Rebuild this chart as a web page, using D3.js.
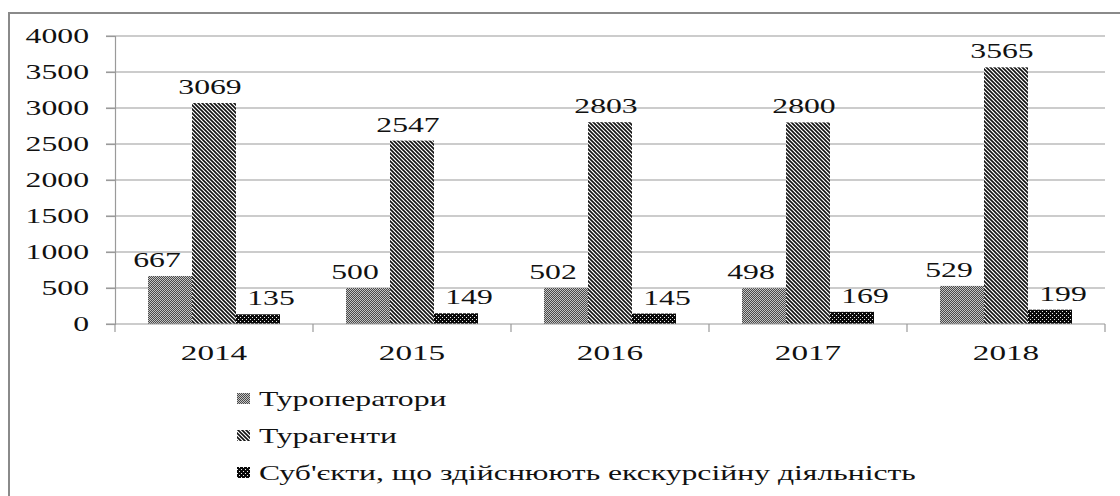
<!DOCTYPE html>
<html>
<head>
<meta charset="utf-8">
<script src="https://cdn.jsdelivr.net/npm/d3@7"></script>
<style>
  html, body { margin: 0; padding: 0; background: #fff; }
  svg { display: block; }
</style>
</head>
<body>
<svg id="chart" width="1120" height="496"></svg>
<script>
// ---- data ----
const years = ["2014", "2015", "2016", "2017", "2018"];
const seriesNames = ["Туроператори", "Турагенти", "Суб'єкти, що здійснюють екскурсійну діяльність"];
const touroperators = [667, 500, 502, 498, 529];
const travelAgents = [3069, 2547, 2803, 2800, 3565];
const excursionEntities = [135, 149, 145, 169, 199];
const yTicks = [0, 500, 1000, 1500, 2000, 2500, 3000, 3500, 4000];

const seriesValues = [touroperators, travelAgents, excursionEntities];

// ---- setup ----
const FONT = "'Liberation Serif', 'Times New Roman', 'DejaVu Serif', serif";
const svg = d3.select("#chart");
const SX = 1.51; // horizontal text stretch seen in the reference

const defs = svg.append("defs");
// pattern 1: fine gray checker
const p1 = defs.append("pattern").attr("id", "pat0").attr("width", 2).attr("height", 2)
  .attr("patternUnits", "userSpaceOnUse");
p1.append("rect").attr("width", 2).attr("height", 2).attr("fill", "#c4c4c4");
p1.append("rect").attr("x", 0).attr("y", 0).attr("width", 1).attr("height", 1).attr("fill", "#4a4a4a");
p1.append("rect").attr("x", 1).attr("y", 1).attr("width", 1).attr("height", 1).attr("fill", "#4a4a4a");
// pattern 2: diagonal stripes (down-right)
const p2 = defs.append("pattern").attr("id", "pat1").attr("width", 4).attr("height", 4)
  .attr("patternUnits", "userSpaceOnUse");
p2.append("rect").attr("width", 4).attr("height", 4).attr("fill", "#fff");
p2.append("path").attr("d", "M-1,-1 L5,5 M-1,3 L1,5 M3,-1 L5,1")
  .attr("stroke", "#111").attr("stroke-width", 1.6);
// pattern 3: black with white dots
const p3 = defs.append("pattern").attr("id", "pat2").attr("width", 4).attr("height", 4)
  .attr("patternUnits", "userSpaceOnUse");
p3.append("rect").attr("width", 4).attr("height", 4).attr("fill", "#0a0a0a");
p3.append("rect").attr("x", 1).attr("y", 1).attr("width", 1).attr("height", 1).attr("fill", "#eee");
p3.append("rect").attr("x", 3).attr("y", 3).attr("width", 1).attr("height", 1).attr("fill", "#eee");

const fills = ["url(#pat0)", "url(#pat1)", "url(#pat2)"];
const labelDx = [-13, -4, 13];

// outer border
svg.append("rect").attr("x", 9).attr("y", 13).attr("width", 1140).attr("height", 520)
  .attr("fill", "none").attr("stroke", "#8a8a8a").attr("stroke-width", 2);

function stretched(parent, x, y, str, anchor, size) {
  const g = parent.append("g").attr("transform", `translate(${x},${y})`);
  g.append("text").attr("transform", `scale(${SX},1)`)
    .attr("text-anchor", anchor)
    .attr("font-family", FONT)
    .style("font-family", FONT)
    .attr("font-size", size).attr("fill", "#111").text(str);
  return g;
}

// scales
const y = d3.scaleLinear().domain([0, 4000]).range([324, 36]);
const x0 = d3.scaleBand().domain(years).range([115, 1105]).padding(0);
const x1 = d3.scaleBand().domain(d3.range(3)).range([0, x0.bandwidth()])
  .paddingInner(0).paddingOuter(0.75);

// gridlines
svg.append("g").selectAll("line").data(yTicks.filter(d => d > 0)).join("line")
  .attr("x1", 106).attr("x2", 1105)
  .attr("y1", d => y(d)).attr("y2", d => y(d))
  .attr("stroke", "#9a9a9a").attr("stroke-width", 1.2);

// y axis
const yAxis = svg.append("g").attr("transform", "translate(115,0)")
  .call(d3.axisLeft(y).tickValues(yTicks).tickSize(9).tickFormat(""));
yAxis.select(".domain").attr("stroke", "#9a9a9a").attr("stroke-width", 1.2);
yAxis.selectAll(".tick line").attr("stroke", "#9a9a9a").attr("stroke-width", 1.2);

// y tick labels
const yl = svg.append("g");
yTicks.forEach(t => {
  stretched(yl, 89, y(t) + 7, String(t), "end", 21);
});

// bars
const groups = svg.append("g").selectAll("g").data(years).join("g")
  .attr("transform", d => `translate(${x0(d)},0)`);
groups.selectAll("rect").data((d, i) => seriesValues.map((s, k) => ({ k, v: s[i] }))).join("rect")
  .attr("x", d => x1(d.k)).attr("width", x1.bandwidth())
  .attr("y", d => y(d.v)).attr("height", d => y(0) - y(d.v))
  .attr("fill", d => fills[d.k]);

// value labels
groups.each(function (yr, i) {
  const g = d3.select(this);
  seriesValues.forEach((s, k) => {
    stretched(g, x1(k) + x1.bandwidth() / 2 + labelDx[k], y(s[i]) - 9, String(s[i]), "middle", 21);
  });
});

// x axis
const xAxis = svg.append("g").attr("transform", "translate(0,324)");
xAxis.append("line").attr("x1", 106).attr("x2", 1105).attr("y1", 0).attr("y2", 0)
  .attr("stroke", "#9a9a9a").attr("stroke-width", 1.2);
const bounds = years.map(d => x0(d)).concat([x0(years[years.length - 1]) + x0.bandwidth()]);
xAxis.selectAll("line.tk").data(bounds).join("line").attr("class", "tk")
  .attr("x1", d => d).attr("x2", d => d).attr("y1", 0).attr("y2", 8)
  .attr("stroke", "#9a9a9a").attr("stroke-width", 1.2);
years.forEach(yr => {
  stretched(xAxis, x0(yr) + x0.bandwidth() / 2, 36, yr, "middle", 22);
});

// legend
const legend = svg.append("g");
seriesNames.forEach((name, k) => {
  const by = 406 + k * 37;
  legend.append("rect").attr("x", 237).attr("y", by - 13).attr("width", 13).attr("height", 11)
    .attr("fill", fills[k]);
  stretched(legend, 259, by, name, "start", 21);
});
</script>
</body>
</html>
